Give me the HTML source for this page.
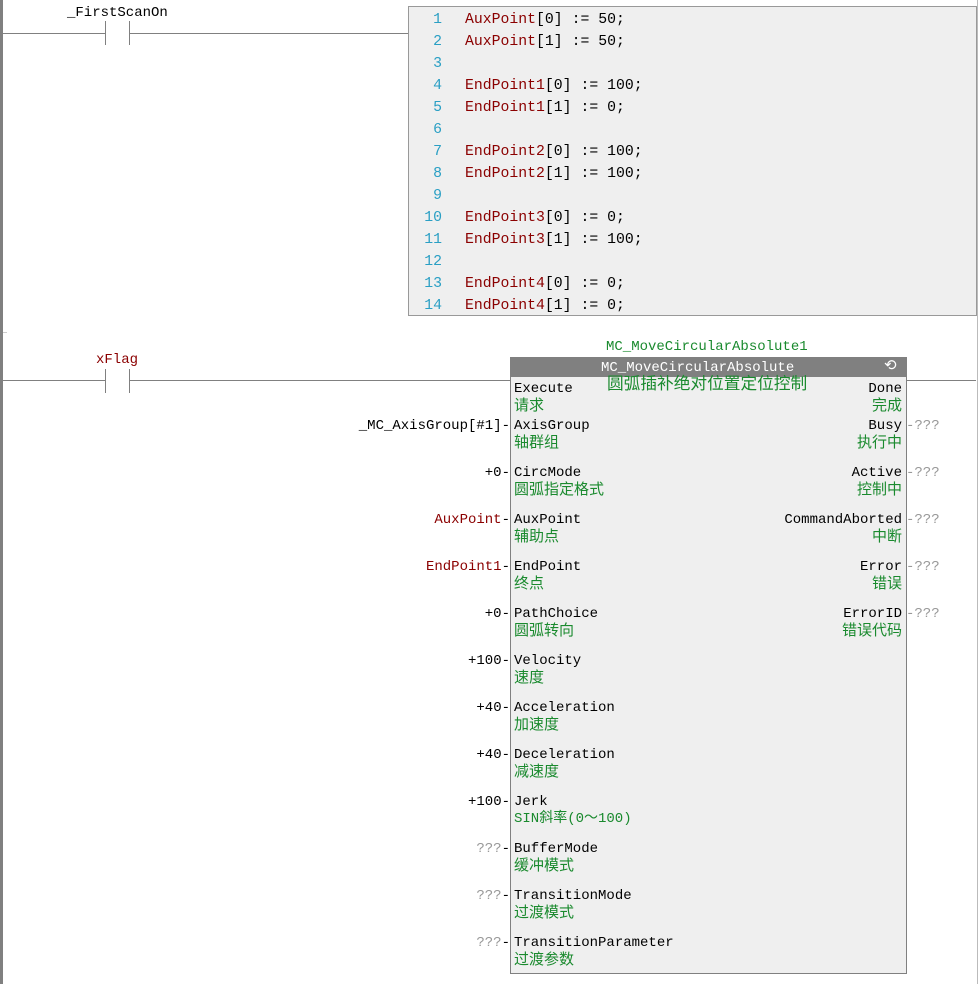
<!DOCTYPE html>
<html><head><meta charset="utf-8"><style>
body{margin:0;width:980px;height:984px;background:#fff;position:relative;overflow:hidden;font-family:"Liberation Mono","Noto Sans CJK SC",monospace;font-size:14px}
.a{position:absolute;white-space:pre;line-height:16px}
.l{position:absolute;background:#808080}
.g{color:#1a8a2e}
.a span.g{font-size:15px}
.r{color:#8b0000}
.q{color:#999}
.n{color:#2a9fc4}
.c{font-size:14.8px}
</style></head><body>
<div class="l" style="left:0;top:0;width:3px;height:984px"></div>
<div class="l" style="left:3px;top:332px;width:4px;height:1px;background:#ccc"></div>
<!-- rung1 -->
<div class="a" style="left:67px;top:5px">_FirstScanOn</div>
<div class="l" style="left:2px;top:33px;width:104px;height:1px"></div>
<div class="l" style="left:105px;top:21px;width:1px;height:24px"></div>
<div class="l" style="left:129px;top:21px;width:1px;height:24px"></div>
<div class="l" style="left:129px;top:33px;width:280px;height:1px"></div>
<div style="position:absolute;left:408px;top:6px;width:567px;height:308px;background:#efefef;border:1px solid #999"></div>
<div class="l" style="left:977px;top:0;width:1px;height:984px;background:#bbb"></div>
<div class="a c" style="left:410px;top:9px;line-height:22px;width:32px;text-align:right"><span class="n">1
2
3
4
5
6
7
8
9
10
11
12
13
14</span></div>
<div class="a c" style="left:465px;top:9px;line-height:22px"><span class="r">AuxPoint</span>[0] := 50;
<span class="r">AuxPoint</span>[1] := 50;

<span class="r">EndPoint1</span>[0] := 100;
<span class="r">EndPoint1</span>[1] := 0;

<span class="r">EndPoint2</span>[0] := 100;
<span class="r">EndPoint2</span>[1] := 100;

<span class="r">EndPoint3</span>[0] := 0;
<span class="r">EndPoint3</span>[1] := 100;

<span class="r">EndPoint4</span>[0] := 0;
<span class="r">EndPoint4</span>[1] := 0;</div>
<!-- rung2 -->
<div class="a r" style="left:96px;top:352px">xFlag</div>
<div class="l" style="left:2px;top:380px;width:104px;height:1px"></div>
<div class="l" style="left:105px;top:369px;width:1px;height:24px"></div>
<div class="l" style="left:129px;top:369px;width:1px;height:24px"></div>
<div class="l" style="left:129px;top:380px;width:382px;height:1px"></div>
<div class="l" style="left:906px;top:380px;width:70px;height:1px"></div>
<div class="a g" style="left:606px;top:339px">MC_MoveCircularAbsolute1</div>
<div style="position:absolute;left:510px;top:357px;width:395px;height:615px;background:#efefef;border:1px solid #808080"></div>
<div style="position:absolute;left:510px;top:357px;width:397px;height:20px;background:#808080"></div>
<div class="a" style="left:601px;top:360px;color:#fff">MC_MoveCircularAbsolute</div>
<div class="a" style="left:884px;top:359px;color:#fff;font-size:15px">⟲</div>
<div class="a g" style="left:607px;top:377px;font-size:16.7px;line-height:18px">圆弧插补绝对位置定位控制</div>
<div class="a" style="left:514px;top:381px;line-height:17px">Execute<br><span class="g">请求</span></div>
<div class="a" style="left:514px;top:418px;line-height:17px">AxisGroup<br><span class="g">轴群组</span></div>
<div class="a" style="left:514px;top:465px;line-height:17px">CircMode<br><span class="g">圆弧指定格式</span></div>
<div class="a" style="left:514px;top:512px;line-height:17px">AuxPoint<br><span class="g">辅助点</span></div>
<div class="a" style="left:514px;top:559px;line-height:17px">EndPoint<br><span class="g">终点</span></div>
<div class="a" style="left:514px;top:606px;line-height:17px">PathChoice<br><span class="g">圆弧转向</span></div>
<div class="a" style="left:514px;top:653px;line-height:17px">Velocity<br><span class="g">速度</span></div>
<div class="a" style="left:514px;top:700px;line-height:17px">Acceleration<br><span class="g">加速度</span></div>
<div class="a" style="left:514px;top:747px;line-height:17px">Deceleration<br><span class="g">减速度</span></div>
<div class="a" style="left:514px;top:794px;line-height:17px">Jerk<br><span class="g" style="font-size:14px">SIN斜率(0～100)</span></div>
<div class="a" style="left:514px;top:841px;line-height:17px">BufferMode<br><span class="g">缓冲模式</span></div>
<div class="a" style="left:514px;top:888px;line-height:17px">TransitionMode<br><span class="g">过渡模式</span></div>
<div class="a" style="left:514px;top:935px;line-height:17px">TransitionParameter<br><span class="g">过渡参数</span></div>
<div class="a" style="right:78px;top:381px;line-height:17px;text-align:right">Done<br><span class="g">完成</span></div>
<div class="a" style="right:78px;top:418px;line-height:17px;text-align:right">Busy<br><span class="g">执行中</span></div>
<div class="a" style="right:78px;top:465px;line-height:17px;text-align:right">Active<br><span class="g">控制中</span></div>
<div class="a" style="right:78px;top:512px;line-height:17px;text-align:right">CommandAborted<br><span class="g">中断</span></div>
<div class="a" style="right:78px;top:559px;line-height:17px;text-align:right">Error<br><span class="g">错误</span></div>
<div class="a" style="right:78px;top:606px;line-height:17px;text-align:right">ErrorID<br><span class="g">错误代码</span></div>
<div class="a q" style="left:906px;top:418px">-???</div>
<div class="a q" style="left:906px;top:465px">-???</div>
<div class="a q" style="left:906px;top:512px">-???</div>
<div class="a q" style="left:906px;top:559px">-???</div>
<div class="a q" style="left:906px;top:606px">-???</div>
<div class="a" style="right:470px;top:418px">_MC_AxisGroup[#1]-</div>
<div class="a" style="right:470px;top:465px">+0-</div>
<div class="a" style="right:470px;top:512px"><span class="r">AuxPoint</span>-</div>
<div class="a" style="right:470px;top:559px"><span class="r">EndPoint1</span>-</div>
<div class="a" style="right:470px;top:606px">+0-</div>
<div class="a" style="right:470px;top:653px">+100-</div>
<div class="a" style="right:470px;top:700px">+40-</div>
<div class="a" style="right:470px;top:747px">+40-</div>
<div class="a" style="right:470px;top:794px">+100-</div>
<div class="a" style="right:470px;top:841px"><span class="q">???</span>-</div>
<div class="a" style="right:470px;top:888px"><span class="q">???</span>-</div>
<div class="a" style="right:470px;top:935px"><span class="q">???</span>-</div>
</body></html>
